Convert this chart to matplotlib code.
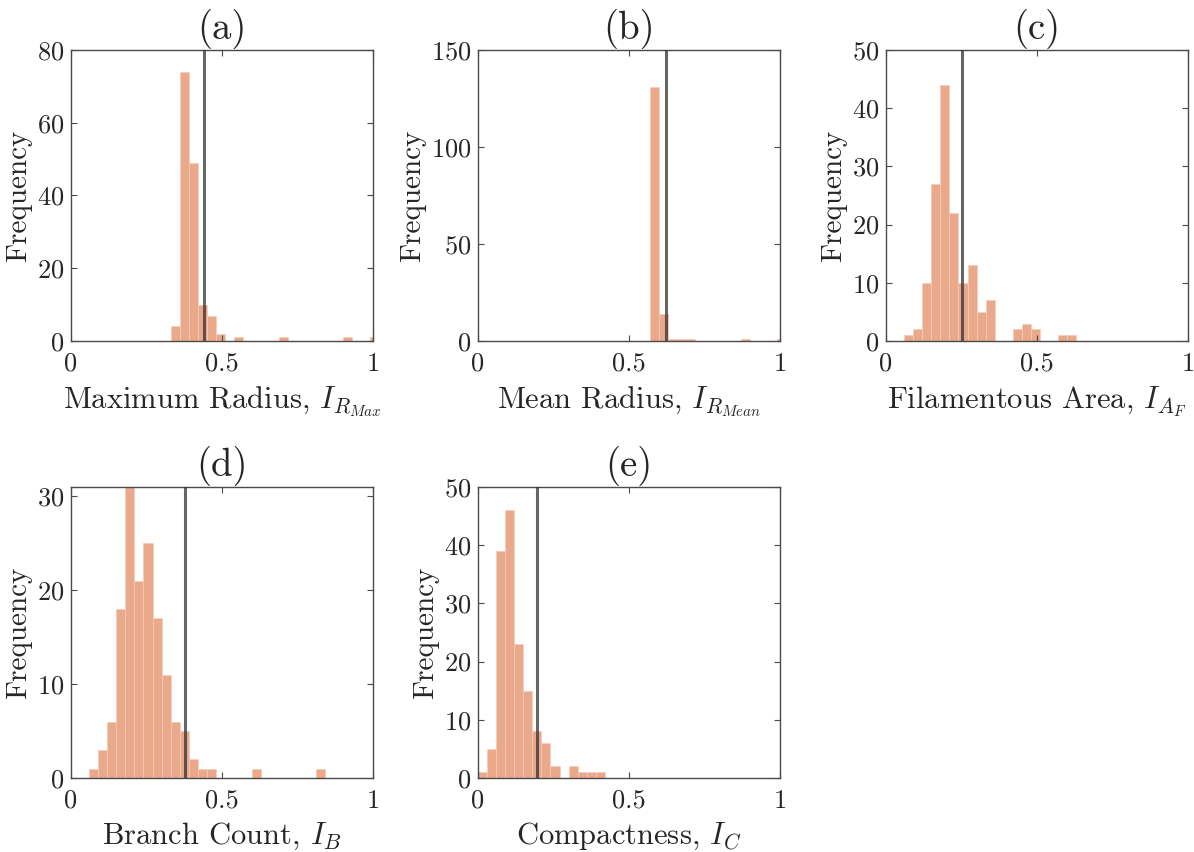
import numpy as np
import matplotlib
matplotlib.use("Agg")
import matplotlib.pyplot as plt

plt.rcParams['font.family'] = ['cmr10', 'DejaVu Serif']
plt.rcParams['mathtext.fontset'] = 'cm'
plt.rcParams['axes.formatter.use_mathtext'] = True
plt.rcParams['axes.unicode_minus'] = False

# ---- data ----
bin_width = 0.03
titles = ['(a)', '(b)', '(c)', '(d)', '(e)']
xlabels = ['Maximum Radius, $I_{R_{Max}}$', 'Mean Radius, $I_{R_{Mean}}$',
           'Filamentous Area, $I_{A_F}$', 'Branch Count, $I_B$', 'Compactness, $I_C$']
bin_starts = [0.33, 0.57, 0.06, 0.06, 0.0]
counts_a = [4, 74, 49, 10, 7, 2, 0, 1, 0, 0, 0, 0, 1, 0, 0, 0, 0, 0, 0, 1, 0, 0, 1]
counts_b = [131, 14, 1, 1, 1, 0, 0, 0, 0, 0, 1, 0, 0, 0, 1]
counts_c = [1, 2, 10, 27, 44, 22, 10, 13, 5, 7, 0, 0, 2, 3, 2, 0, 0, 1, 1]
counts_d = [1, 3, 6, 18, 31, 21, 25, 17, 11, 6, 5, 2, 1, 1, 0, 0, 0, 0, 1, 0, 0, 0, 0, 0, 0, 1]
counts_e = [1, 5, 39, 46, 23, 15, 8, 6, 2, 0, 2, 1, 1, 1]
thresholds = [0.44, 0.623, 0.253, 0.376, 0.197]
ylims = [80, 150, 50, 31, 50]
yticks = [[0, 20, 40, 60, 80], [0, 50, 100, 150], [0, 10, 20, 30, 40, 50],
          [0, 10, 20, 30], [0, 10, 20, 30, 40, 50]]
xticks = [0, 0.5, 1]
xticklabels = ['0', '0.5', '1']
all_counts = [counts_a, counts_b, counts_c, counts_d, counts_e]

W, H = 1194, 852
fig = plt.figure(figsize=(W / 100, H / 100), dpi=100)

# axes boxes in pixels: left, top
boxes = [(71, 50), (478, 50), (886, 50), (71, 487), (478, 487)]
aw, ah = 302, 291

bar_color = '#EBA98B'
spine_color = '#4a4a4a'
text_color = '#262626'

for i in range(5):
    l, t = boxes[i]
    ax = fig.add_axes([l / W, 1 - (t + ah) / H, aw / W, ah / H])
    counts = np.array(all_counts[i])
    edges = bin_starts[i] + bin_width * np.arange(len(counts))
    ax.bar(edges, counts, width=bin_width, align='edge', color=bar_color,
           edgecolor='#F3CDBB', linewidth=0.5, zorder=1)
    ax.axvline(thresholds[i], color='#333333', alpha=0.75, lw=2.2, zorder=3)
    ax.set_xlim(0, 1)
    ax.set_ylim(0, ylims[i])
    ax.set_xticks(xticks)
    ax.set_xticklabels(xticklabels)
    ax.set_yticks(yticks[i])
    ax.tick_params(direction='in', length=4, width=0.8, top=True, right=True,
                   labelsize=19, colors=spine_color, labelcolor=text_color)
    ax.tick_params(axis='x', pad=8)
    ax.tick_params(axis='y', pad=5)
    for s in ax.spines.values():
        s.set_color(spine_color)
        s.set_linewidth(1.0)
    ax.set_title(titles[i], fontsize=28, color=text_color, pad=8)
    ax.set_xlabel(xlabels[i], fontsize=22, color=text_color, labelpad=6)
    ax.set_ylabel('Frequency', fontsize=21, color=text_color, labelpad=3)

fig.savefig('out.png', dpi=100)
